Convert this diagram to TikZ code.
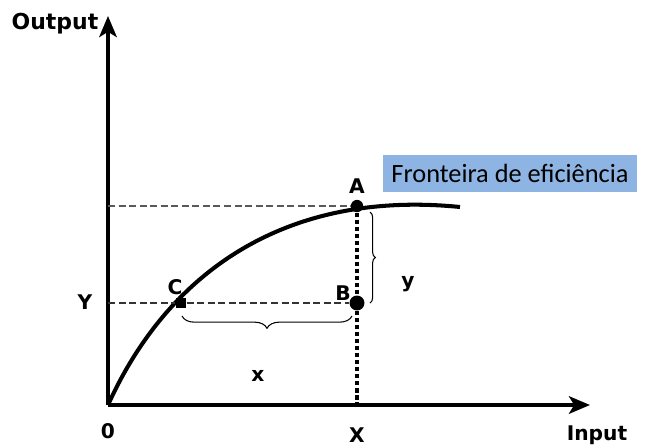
\documentclass[tikz,border=0pt]{standalone}
\usepackage{fontspec}
\setmainfont{DejaVu Sans}
\newfontfamily\boxfont{Carlito}
\usepackage{xcolor}
\usetikzlibrary{arrows.meta,positioning,decorations.pathreplacing}

\definecolor{frontblue}{HTML}{8EB4E3}

\tikzset{
  axis/.style={line width=2pt,-{Stealth[length=12pt,width=10pt,inset=3pt]}},
  lbl/.style={font=\fontsize{11.5}{13}\selectfont\bfseries,inner sep=1pt},
  dot/.style={circle,fill=black,inner sep=0pt,minimum size=#1},
  guide/.style={dashed,line width=0.7pt,dash pattern=on 4pt off 2pt},
  brace/.style={decorate,decoration={brace,amplitude=#1},line width=0.6pt}
}

\begin{document}
\begin{tikzpicture}[x=0.02cm,y=-0.02cm]
  \useasboundingbox (0,0) rectangle (645,447);

  % axes
  \coordinate (O) at (108,405);
  \coordinate (ytip) at (108,16);
  \coordinate (xtip) at (590,405);
  \draw[axis] (O) -- (ytip);
  \draw[axis] (O) -- (xtip);

  % efficiency frontier
  \draw[line width=2.3pt] (O) .. controls (170,268) and (290,190) .. (460,207);

  % points on and under the frontier
  \node[dot=7pt] (A) at (357,206) {};
  \node[dot=8.5pt] (B) at (357,303) {};
  \node[rectangle,fill=black,inner sep=0pt,minimum size=6pt] (C) at (181,303) {};
  \coordinate (yA) at (108,206);
  \coordinate (yB) at (108,303);
  \coordinate (xA) at (357,405);

  % guide lines
  \draw[guide,gray!70!black] (yA) -- (A);
  \draw[guide,black!80] (yB) -- (C) -- (B);
  \draw[line width=2pt,dash pattern=on 2.5pt off 1.5pt] (A) -- (B) -- (xA);

  % braces
  \draw[brace=7pt] (352,316) -- (182,316);
  \draw[brace=3pt] (370,212) -- (370,303);

  % labels
  \node[lbl,font=\fontsize{12.5}{14}\selectfont\bfseries] at (55,24) {Output};
  \node[lbl] at (108,431) {0};
  \node[lbl] at (357,435) {X};
  \node[lbl] at (597,435) {Input};
  \node[lbl] at (85,302) {Y};
  \node[lbl,above=2pt of A] {A};
  \node[lbl] at (343,293) {B};
  \node[lbl] at (175,287) {C};
  \node[lbl] at (258,376) {x};
  \node[lbl] at (408,284) {y};

  \node[fill=frontblue,minimum width=5.08cm,minimum height=0.74cm,inner sep=0pt,
        font=\boxfont\fontsize{15}{17}\selectfont] (front) at (510,173.5) {Fronteira de eficiência};
\end{tikzpicture}
\end{document}
